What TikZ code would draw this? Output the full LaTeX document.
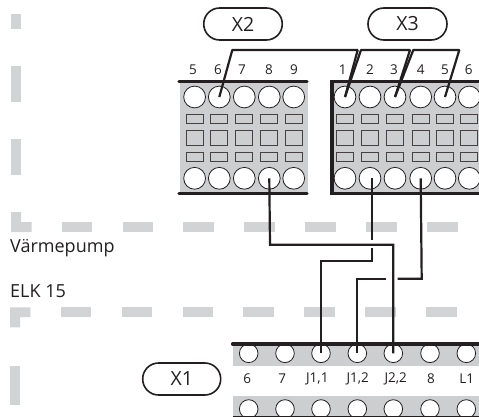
\documentclass[tikz,border=0pt]{standalone}
\usepackage{fontspec}
\setmainfont{Open Sans}
\definecolor{panel}{HTML}{CDCED0}
\definecolor{dashgray}{HTML}{D1D3D4}
\definecolor{ink}{HTML}{231F20}
\tikzset{
  pill/.style={draw=ink,line width=1.6pt,rounded corners=15.9pt,minimum height=32pt,inner sep=0pt,font=\fontsize{19.5}{19.5}\selectfont,text=ink},
  hole/.style={circle,draw=ink,fill=white,line width=.8pt,inner sep=0pt},
  bighole/.style={hole,minimum size=21.8pt},
  smallhole/.style={hole,minimum size=18.6pt},
  slot/.style={draw=ink!85,line width=.8pt,inner sep=0pt,minimum width=17pt},
  pin/.style={font=\fontsize{13.5}{13.5}\selectfont,text=ink,inner sep=0pt},
  caption/.style={font=\fontsize{18}{18}\selectfont,text=ink,inner sep=0pt,anchor=base west},
  wire/.style={draw=ink,line width=2.2pt,line join=miter},
  bar/.style={draw=ink,line width=3.2pt},
  dashbox/.style={fill=dashgray,draw=none},
}
\begin{document}
\begin{tikzpicture}[x=1pt,y=-1pt]
\useasboundingbox (0,0) rectangle (479,417);
\clip (0,0) rectangle (479,417);
% dashed enclosure
\foreach \a/\b/\c/\d in {11/14/21/29, 11/65.7/21/102, 11/139/21/175, 10/366/20/405,
  62/222/92/232, 122.7/222/153/232, 183.3/222/214/232, 244/222/275/232, 305/222/336/232, 366/222/396.5/232, 427/222/457.5/232,
  61/307/91/317, 121.7/307/152/317, 182.5/307/213/317, 243.3/307/274/317, 304.3/307/335/317, 365.3/307/396/317, 426/307/457/317}
  \fill[dashbox] (\a,\b) rectangle (\c,\d);
\fill[dashbox] (11,212) -- (21,212) -- (21,222) -- (31.7,222) -- (31.7,232) -- (11,232) -- cycle;
\fill[dashbox] (10,307.3) -- (30.3,307.3) -- (30.3,317) -- (20,317) -- (20,327.3) -- (10,327.3) -- cycle;
% panels
\fill[panel] (180,82) rectangle (308,193);
\fill[panel] (332,82) rectangle (479,193);
\fill[panel] (232.5,344) rectangle (479,365.7);
\fill[panel] (232.5,396) rectangle (479,416);
% X2 terminals
\foreach \i/\x in {5/194.6,6/219.3,7/244.3,8/269.3,9/293.7}{
  \node[bighole] (xtwotop\i) at (\x,97) {};
  \node[bighole] (xtwobot\i) at (\x,178.3) {};
  \node[slot,fill=panel,minimum height=9.6pt] at (\x,119) {};
  \node[slot,fill=panel,minimum height=15.6pt] at (\x,137.8) {};
  \node[slot,fill=panel,minimum height=9.6pt] at (\x,157) {};
}
\foreach \i/\x in {5/193,6/218,7/242,8/269,9/294}
  \node[pin] at (\x,70) {\i};
% X3 terminals
\foreach \i/\x in {1/345,2/370,3/395,4/420.7,5/445,6/469.3}{
  \node[bighole] (xthreetop\i) at (\x,97) {};
  \node[bighole] (xthreebot\i) at (\x,178.3) {};
  \node[slot,fill=panel,minimum height=9.6pt] at (\x,119) {};
  \node[slot,fill=panel,minimum height=15.6pt] at (\x,137.8) {};
  \node[slot,fill=panel,minimum height=9.6pt] at (\x,157) {};
}
\foreach \i/\x in {1/342.7,2/370,3/394,4/420.7,5/445,6/468.7}
  \node[pin] at (\x,70) {\i};
% bars
\draw[bar,line cap=round] (179,81.7) -- (307,81.7);
\draw[bar,line cap=round] (179,193.3) -- (307,193.3);
\draw[bar] (480,81.7) -- (332,81.7) -- (332,193.3) -- (480,193.3);
% X1 terminals
\foreach \i/\x in {a/248.7,b/285,c/321,d/357.3,e/393.3,f/430,g/466.3}{
  \node[smallhole] (xonetop\i) at (\x,353.3) {};
  \node[smallhole] (xonebot\i) at (\x,409) {};
}
\foreach \t/\x in {6/247.3,7/282.3,{J1,1}/317.3,{J1,2}/357.7,{J2,2}/395.7,8/431,L1/466.7}
  \node[pin] at (\x,379) {\t};
\fill[white] (232,416.4) rectangle (479,417);
\draw[bar,line cap=round] (232.5,344) -- (480,344);
\draw[draw=ink,line width=.8pt] (232.5,416.2) -- (479,416.2);
% pills
\node[pill,minimum width=78.5pt] (xtwo) at (243,24) {X2};
\node[pill,minimum width=79pt] (xthree) at (407.5,24) {X3};
\node[pill,minimum width=78pt] (xone) at (181.7,379) {X1};
% captions
\node[caption] (varme) at (10,252.5) {Värmepump};
\node[caption] (elk) at (10,297.5) {ELK 15};
% wires top
\draw[wire,line join=bevel] (xtwotop6.center) -- (232.3,50) -- (357.7,50) -- (xthreetop1.center);
\draw[wire,line join=bevel] (xthreetop1.center) -- (361,50) -- (410,50) -- (xthreetop3.center);
\draw[wire,line join=bevel] (xthreetop3.center) -- (413.3,50) -- (459.3,50) -- (xthreetop5.center);
% wires bottom
\draw[wire] (xtwobot8.center) -- (270,244.7) -- (393.3,244.7) -- (xonetope.center);
\draw[wire] (xthreebot2.center) ++(2,0) -- (372,240);
\draw[wire] (372,248.3) -- (372,261.3) -- (321,261.3) -- (xonetopc.center);
\draw[wire] (xthreebot4.center) -- (421.7,278.7) -- (397.7,278.7);
\draw[wire] (386,278.7) -- (357.3,278.7) -- (xonetopd.center);
\end{tikzpicture}
\end{document}
